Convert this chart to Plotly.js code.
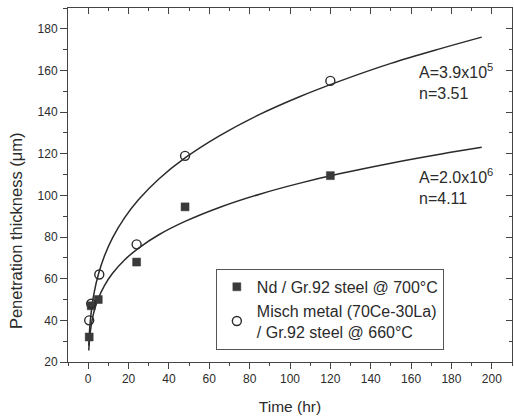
<!DOCTYPE html>
<html><head><meta charset="utf-8">
<script src="https://cdn.plot.ly/plotly-3.0.1.min.js"></script>
<style>html,body{margin:0;padding:0;background:#fff}#chart{width:514px;height:419px}</style>
</head><body><div id="chart"></div>
<script>
// Measured points
const ndTime = [0.5, 1.5, 5, 24, 48, 120];
const ndThick = [32, 47, 50, 68, 94.5, 109.5];
const mmTime = [0.5, 1.5, 5.5, 24, 48, 120];
const mmThick = [40, 48, 62, 76.5, 119, 155];
// Fitted curves
const fitTime = [0.3, 0.6, 1, 2, 3, 5, 8, 12, 18, 25, 35, 48, 65, 85, 105, 125, 150, 175, 195];
const mmFit = [27.8, 33.9, 39.2, 47.7, 53.6, 61.9, 70.8, 79.5, 89.2, 98.0, 107.9, 118.0, 128.6, 138.9, 147.5, 155.0, 163.4, 170.6, 176.0];
const ndFit = [25.5, 30.1, 34.1, 40.4, 44.6, 50.5, 56.6, 62.5, 69.0, 74.7, 81.1, 87.5, 94.2, 100.6, 105.9, 110.5, 115.5, 119.9, 123.1];
const xTicks = [0, 20, 40, 60, 80, 100, 120, 140, 160, 180, 200];
const yTicks = [20, 40, 60, 80, 100, 120, 140, 160, 180];
const legendNames = ["Nd / Gr.92 steel @ 700°C", "Misch metal (70Ce-30La)<br>/ Gr.92 steel @ 660°C"];
const fitLabels = ["A=3.9x10<sup>5</sup><br>n=3.51", "A=2.0x10<sup>6</sup><br>n=4.11"];
const labelPos = [[163, 154.5], [163, 104.5]];
const yTitle = 'Penetration thickness (μm)';
const xTitle = 'Time (hr)';

const ink = '#2b2b2b';
const fam = 'Liberation Sans, Arial, sans-serif';

const traces = [
  {x: fitTime, y: mmFit, mode: 'lines', line: {color: ink, width: 1.5, shape: 'spline'}, showlegend: false, hoverinfo: 'skip'},
  {x: fitTime, y: ndFit, mode: 'lines', line: {color: ink, width: 1.5, shape: 'spline'}, showlegend: false, hoverinfo: 'skip'},
  {x: ndTime, y: ndThick, mode: 'markers', name: legendNames[0],
   marker: {symbol: 'square', size: 8, color: '#3a3a3a', line: {color: '#3a3a3a', width: 0.5}}},
  {x: mmTime, y: mmThick, mode: 'markers', name: legendNames[1],
   marker: {symbol: 'circle-open', size: 9, color: ink, line: {color: ink, width: 1.4}}},
  {x: [], y: [], xaxis: 'x2', yaxis: 'y2', showlegend: false, hoverinfo: 'skip'}
];

const axisCommon = {showgrid: false, zeroline: false, showline: true, linecolor: '#444', linewidth: 1,
  tickcolor: '#444', tickwidth: 1};

const layout = {
  width: 514, height: 419,
  margin: {l: 68, r: 2, t: 8, b: 57},
  paper_bgcolor: '#fff', plot_bgcolor: '#fff',
  font: {family: fam, color: ink, size: 12},
  showlegend: true,
  legend: {x: 0.333, y: 0.263, xanchor: 'left', yanchor: 'top', bgcolor: 'rgba(255,255,255,0)',
    bordercolor: '#555', borderwidth: 1, font: {family: fam, size: 16, color: ink}},
  xaxis: Object.assign({}, axisCommon, {range: [-10, 210], tickvals: xTicks, ticks: 'outside', ticklen: 6,
    minor: {dtick: 10, tick0: 0, ticks: 'outside', ticklen: 3, tickcolor: '#444'},
    tickfont: {size: 12, color: ink},
    title: {text: xTitle, font: {size: 15.5, color: ink}, standoff: 15}}),
  yaxis: Object.assign({}, axisCommon, {range: [20, 190], tickvals: yTicks, ticks: 'outside', ticklen: 7,
    minor: {dtick: 10, tick0: 0, ticks: 'outside', ticklen: 4, tickcolor: '#444'},
    tickfont: {size: 12, color: ink}}),
  xaxis2: Object.assign({}, axisCommon, {overlaying: 'x', side: 'top', range: [-10, 210], tickvals: xTicks,
    ticks: 'inside', ticklen: 6, showticklabels: false,
    minor: {dtick: 10, tick0: 0, ticks: 'inside', ticklen: 3, tickcolor: '#444'}}),
  yaxis2: Object.assign({}, axisCommon, {overlaying: 'y', side: 'right', range: [20, 190], tickvals: yTicks,
    ticks: 'inside', ticklen: 6, showticklabels: false,
    minor: {dtick: 10, tick0: 0, ticks: 'inside', ticklen: 3, tickcolor: '#444'}}),
  annotations: fitLabels.map((t, i) => ({x: labelPos[i][0], y: labelPos[i][1], xref: 'x', yref: 'y',
    text: t, showarrow: false, xanchor: 'left', yanchor: 'middle', align: 'left',
    font: {family: fam, size: 16, color: ink}})).concat([
    {x: -0.117, y: 0.37, xref: 'paper', yref: 'paper', text: yTitle, textangle: -90, showarrow: false,
     xanchor: 'center', yanchor: 'middle', font: {family: fam, size: 16.5, color: ink}}])
};

Plotly.newPlot('chart', traces, layout, {displayModeBar: false, staticPlot: true});
</script></body></html>
